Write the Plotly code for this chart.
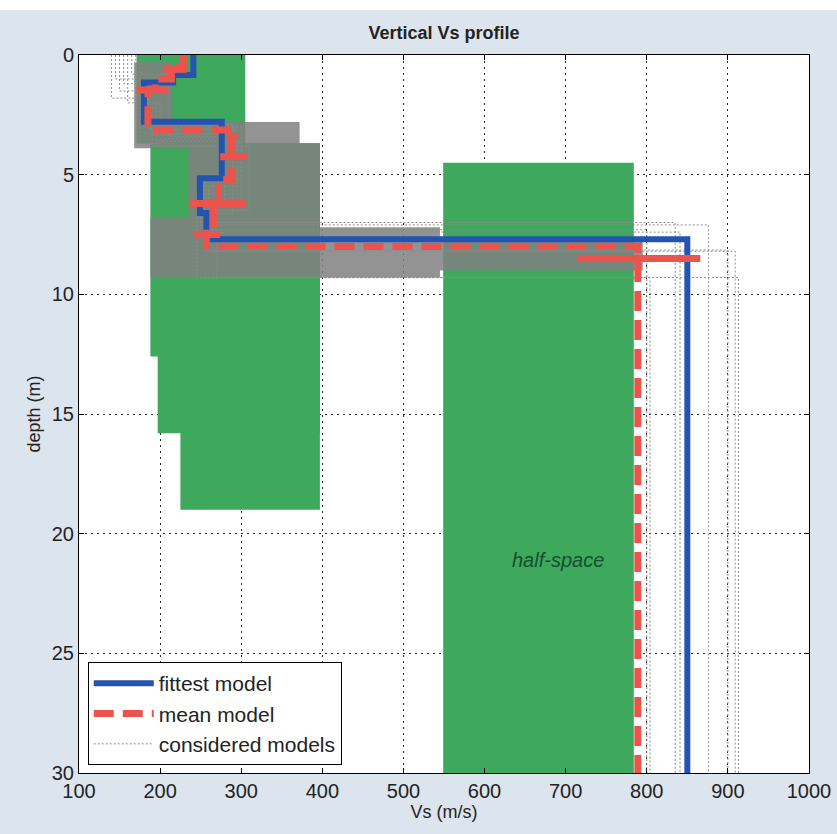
import plotly.graph_objects as go

# ---------------- data ----------------
# parameter search ranges (green boxes): Vs range x depth range
box_vs_min = [171, 188, 197, 225, 549]
box_vs_max = [305, 397, 397, 397, 784]
box_depth_top = [0.0, 3.7, 3.7, 3.7, 4.5]
box_depth_bottom = [3.7, 12.6, 15.8, 19.0, 30.0]

# envelope of the dense cloud of considered models (grey band)
band_vs = [168, 215, 215, 372, 372, 397, 397, 545, 545, 795, 795, 545, 545, 188, 188, 235, 235, 168, 168]
band_depth = [0.3, 0.3, 2.8, 2.8, 3.7, 3.7, 7.2, 7.2, 7.8, 7.8, 9.0, 9.0, 9.3, 9.3, 6.8, 6.8, 3.9, 3.9, 0.3]

# fittest model: layer Vs and layer bottom depth
fittest_vs = [241, 216, 180, 276, 249, 257, 850]
fittest_bottom = [0.84, 1.15, 2.79, 5.15, 6.6, 7.7, 30]

# mean model
mean_vs = [229, 214, 194, 185, 288, 272, 266, 257, 789]
mean_bottom = [0.5, 1.0, 1.46, 3.13, 5.2, 6.2, 7.45, 8.0, 30]

# mean model standard deviation bars
std_depth = [0.6, 1.46, 3.4, 4.25, 6.2, 7.5, 8.5]
std_lo = [204, 171, 282, 274, 236, 241, 715]
std_hi = [233, 210, 296, 307, 306, 274, 866]

# a few individual considered models (outlines)
considered_vs = [
    [150, 180, 290, 260, 800],
    [160, 200, 300, 270, 835],
    [145, 175, 285, 250, 876],
    [170, 190, 310, 265, 900],
    [155, 185, 295, 245, 913],
    [165, 210, 280, 270, 804],
    [175, 195, 300, 255, 909],
    [140, 185, 290, 260, 841],
]
considered_bottom = [
    [1.5, 3.3, 5.5, 7.3, 30],
    [2.0, 3.0, 6.0, 7.0, 30],
    [1.0, 3.5, 5.0, 7.1, 30],
    [2.5, 3.8, 6.5, 8.15, 30],
    [1.2, 3.1, 5.8, 9.3, 30],
    [0.8, 3.4, 6.2, 9.3, 30],
    [2.2, 3.6, 5.2, 8.2, 30],
    [1.8, 2.9, 6.6, 7.4, 30],
]

x_ticks = [100, 200, 300, 400, 500, 600, 700, 800, 900, 1000]
y_ticks = [0, 5, 10, 15, 20, 25, 30]


def step_profile(vs, bottoms):
    xs, ys = [], []
    top = 0.0
    for v, b in zip(vs, bottoms):
        xs += [v, v]
        ys += [top, b]
        top = b
    return xs, ys


GREEN = "rgb(62,168,92)"
BLUE = "rgb(36,84,176)"
RED = "rgb(234,84,76)"
TXT = "rgb(35,35,35)"
FONT = "Liberation Sans, Arial, sans-serif"

fig = go.Figure()

# green search-range boxes
for i in range(len(box_vs_min)):
    x0, x1 = box_vs_min[i], box_vs_max[i]
    y0, y1 = box_depth_top[i], box_depth_bottom[i]
    fig.add_trace(go.Scatter(
        x=[x0, x1, x1, x0, x0], y=[y0, y0, y1, y1, y0],
        mode="lines", fill="toself", fillcolor=GREEN,
        line=dict(color=GREEN, width=0), showlegend=False, hoverinfo="skip"))

# grey band of considered models
fig.add_trace(go.Scatter(
    x=band_vs, y=band_depth, mode="lines", fill="toself",
    fillcolor="rgba(128,128,128,0.85)", line=dict(width=0),
    showlegend=False, hoverinfo="skip"))

# considered models outlines
for k in range(len(considered_vs)):
    xs, ys = step_profile(considered_vs[k], considered_bottom[k])
    fig.add_trace(go.Scatter(
        x=xs, y=ys, mode="lines",
        line=dict(color="rgb(140,140,140)", width=1, dash="2px,2px"),
        name="considered models", legendgroup="considered",
        showlegend=(k == 0), legendrank=3))

# fittest model
xs, ys = step_profile(fittest_vs, fittest_bottom)
fig.add_trace(go.Scatter(
    x=xs, y=ys, mode="lines", line=dict(color=BLUE, width=6),
    name="fittest model", legendrank=1))

# mean model
xs, ys = step_profile(mean_vs, mean_bottom)
fig.add_trace(go.Scatter(
    x=xs, y=ys, mode="lines", line=dict(color=RED, width=7, dash="20px,9px"),
    name="mean model", legendrank=2))

# std bars of mean model
for d, lo, hi in zip(std_depth, std_lo, std_hi):
    fig.add_trace(go.Scatter(
        x=[lo, hi], y=[d, d], mode="lines", line=dict(color=RED, width=7),
        showlegend=False, hoverinfo="skip"))

fig.add_annotation(x=690, y=21.1, text="<i>half-space</i>", showarrow=False,
                   font=dict(family=FONT, size=20, color="rgb(20,80,45)"))

axis_common = dict(
    showline=True, linecolor="black", linewidth=1, mirror="ticks",
    ticks="inside", ticklen=5, tickcolor="black", automargin=False,
    showgrid=True, gridcolor="rgb(40,40,40)", gridwidth=1, griddash="2px,4px",
    zeroline=False, tickfont=dict(family=FONT, size=20, color=TXT),
)

fig.update_xaxes(range=[100, 1000], tickvals=x_ticks,
                 title=dict(text="Vs (m/s)", font=dict(family=FONT, size=18, color=TXT), standoff=1),
                 **axis_common)
fig.update_yaxes(range=[30, 0], tickvals=y_ticks,
                 title=dict(text="depth (m)", font=dict(family=FONT, size=18, color=TXT), standoff=6),
                 **axis_common)

fig.update_layout(
    width=837, height=834,
    margin=dict(l=79, r=28, t=55, b=61, autoexpand=False),
    paper_bgcolor="rgb(220,228,237)",
    plot_bgcolor="white",
    title=dict(text="<b>Vertical Vs profile</b>", xref="paper", x=0.5, xanchor="center",
               y=1 - 33 / 834, yanchor="middle",
               font=dict(family=FONT, size=18, color=TXT)),
    legend=dict(x=0.012, y=0.011, xanchor="left", yanchor="bottom",
                bgcolor="white", bordercolor="black", borderwidth=1,
                font=dict(family=FONT, size=21, color=TXT),
                tracegroupgap=0, itemwidth=60),
    shapes=[dict(type="rect", xref="paper", yref="paper", x0=-0.2, x1=1.2,
                 y0=1 + 45 / 718, y1=1 + 60 / 718, fillcolor="white", line=dict(width=0),
                 layer="below")],
    showlegend=True,
)

fig.write_html("out.html")
